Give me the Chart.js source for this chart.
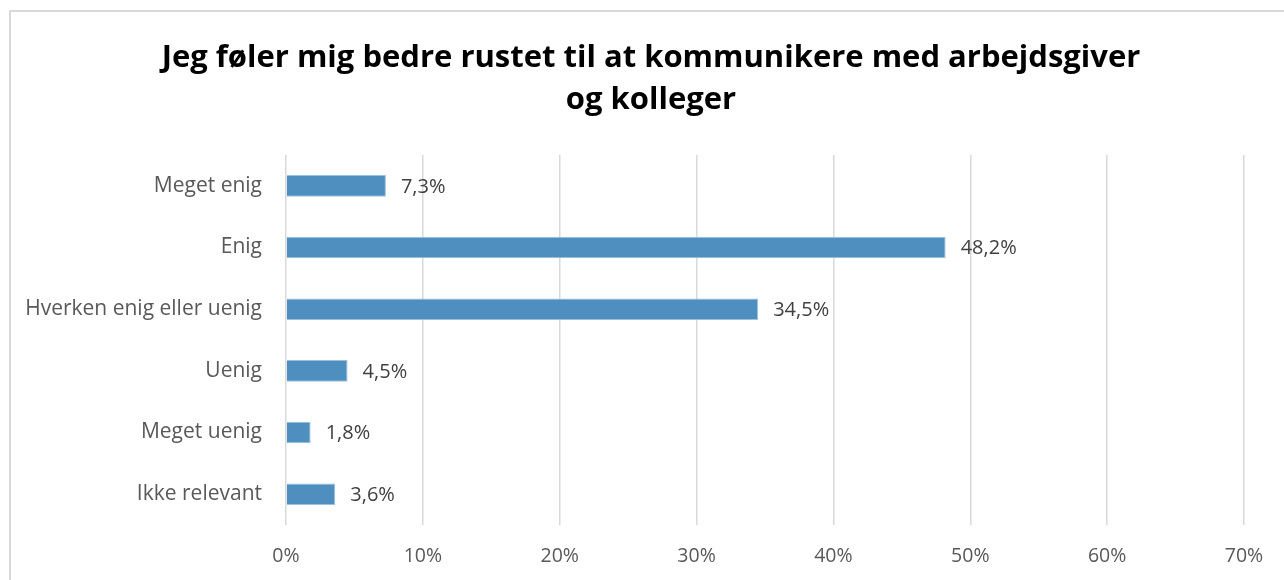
<!DOCTYPE html>
<html>
<head>
<meta charset="utf-8">
<script src="https://cdn.jsdelivr.net/npm/chart.js@4"></script>
<style>
  html, body { margin: 0; padding: 0; background: #fff; }
  #wrap { position: relative; width: 1284px; height: 580px; overflow: hidden; }
  #frame { position: absolute; left: 9px; top: 10px; width: 1300px; height: 600px; border: 2px solid #d9d9d9; box-sizing: border-box; }
  canvas { position: absolute; left: 0; top: 0; }
</style>
</head>
<body>
<div id="wrap">
  <div id="frame"></div>
  <canvas id="chart" width="1284" height="580"></canvas>
</div>
<script>
// Data
const categories = ['Meget enig', 'Enig', 'Hverken enig eller uenig', 'Uenig', 'Meget uenig', 'Ikke relevant'];
const shares = [7.3, 48.2, 34.5, 4.5, 1.8, 3.6];
const tickValues = [0, 10, 20, 30, 40, 50, 60, 70];
const titleLines = ['Jeg føler mig bedre rustet til at kommunikere med arbejdsgiver', 'og kolleger'];

const fontFamily = "'Open Sans', 'Liberation Sans', sans-serif";

// Draw the "7,3%" style value labels next to each bar
const valueLabels = {
    id: 'valueLabels',
    afterLayout(chart) {
        // center the title a little right of the canvas middle, like the original
        if (chart.titleBlock) chart.titleBlock.left = 58;
    },
    afterDatasetsDraw(chart) {
        const ctx = chart.ctx;
        const meta = chart.getDatasetMeta(0);
        ctx.save();
        ctx.font = '20px ' + fontFamily;
        ctx.fillStyle = '#404040';
        ctx.textAlign = 'left';
        ctx.textBaseline = 'middle';
        meta.data.forEach((bar, i) => {
            const txt = shares[i].toFixed(1).replace('.', ',') + '%';
            ctx.fillText(txt, bar.x + 15, bar.y + 1);
        });
        ctx.restore();
    }
};

const ctx = document.getElementById('chart').getContext('2d');
const chart = new Chart(ctx, {
    type: 'bar',
    data: {
        labels: categories,
        datasets: [
            {
                data: shares,
                backgroundColor: '#4f8fc0',
                borderColor: '#9cc0de',
                borderWidth: 1,
                barPercentage: 0.7,
                categoryPercentage: 0.5
            }
        ]
    },
    options: {
        indexAxis: 'y',
        responsive: false,
        animation: false,
        layout: {
            padding: { left: 0, right: 40, top: 0, bottom: 0 }
        },
        plugins: {
            legend: { display: false },
            tooltip: { enabled: false },
            title: {
                display: true,
                text: titleLines,
                color: '#000',
                font: { family: fontFamily, size: 31, weight: 'bold', lineHeight: 1.355 },
                padding: { top: 37, bottom: 34 }
            }
        },
        scales: {
            x: {
                min: 0,
                max: 70,
                afterBuildTicks: (scale) => {
                    scale.ticks = tickValues.map(v => ({ value: v }));
                },
                afterFit: (scale) => { scale.height = 55; },
                grid: { color: '#d9d9d9', lineWidth: 1.5, drawTicks: false },
                border: { display: false },
                ticks: {
                    color: '#595959',
                    padding: 20,
                    font: { family: fontFamily, size: 19.5 },
                    callback: (v) => v + '%'
                }
            },
            y: {
                afterFit: (scale) => { scale.width = 286; },
                grid: { display: false, drawTicks: false },
                border: { display: false },
                ticks: {
                    color: '#595959',
                    padding: 24,
                    font: { family: fontFamily, size: 21 }
                }
            }
        }
    },
    plugins: [valueLabels]
});
</script>
</body>
</html>
